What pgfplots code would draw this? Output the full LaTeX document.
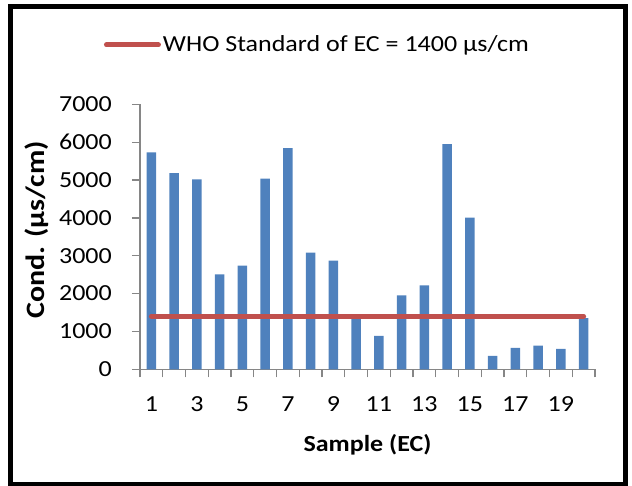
\documentclass[border=0pt]{standalone}
\usepackage{fontspec}
\setmainfont[FakeStretch=1.13]{Carlito}
\usepackage{pgfplots}
\pgfplotsset{compat=1.18}
\definecolor{barblue}{HTML}{4F81BD}
\definecolor{linered}{HTML}{C0504D}
\definecolor{axgray}{HTML}{868686}
\begin{document}
\fontsize{23pt}{27pt}\selectfont
\begin{tikzpicture}[x=1pt,y=1pt]
\path[use as bounding box] (0,0) rectangle (632,486);
\draw[line width=4.5pt] (10.3,2) rectangle (625.5,479.5);
\begin{axis}[
  at={(140pt,116.7pt)}, anchor=south west,
  scale only axis, width=455pt, height=265pt,
  xmin=0.5, xmax=20.5, ymin=0, ymax=7000,
  axis x line*=bottom, axis y line*=left,
  axis line style={draw=axgray, line width=1.3pt, -},
  every tick/.style={draw=axgray, line width=1.3pt},
  tick align=outside,
  xtick={1,3,...,19},
  major x tick style={draw=none},
  minor xtick={0.5,1.5,...,20.5},
  minor tick length=8pt,
  major tick length=8pt,
  ytick={0,1000,...,7000},
  /pgf/number format/assume math mode=true,
  /pgf/number format/1000 sep={},
  tick label style={font=\fontsize{23pt}{27pt}\selectfont},
  xticklabel style={anchor=center, yshift=-27pt},
  yticklabel style={anchor=east, inner sep=0pt, xshift=-20pt},
  xlabel={\bfseries Sample (EC)},
  ylabel={\bfseries Cond. (µs/cm)},
  label style={font=\fontsize{23pt}{27pt}\selectfont},
  xlabel style={at={(axis description cs:0.5,-0.286)}, anchor=center},
  ylabel style={at={(axis description cs:-0.226,0.526)}, anchor=center,
    font=\fontsize{26.5pt}{31pt}\selectfont},
  legend style={at={(axis description cs:0.39,1.224)}, anchor=center, draw=none, fill=none,
    font=\fontsize{23pt}{27pt}\selectfont, inner sep=0pt},
  legend cell align=left,
  legend image code/.code={\draw[linered, line width=5pt, line cap=round] (0pt,0pt) -- (52pt,0pt);},
  clip=false,
]
\addplot[ybar, bar width=9.3pt, fill=barblue, draw=none, forget plot] coordinates {
(1,5730) (2,5185) (3,5020) (4,2510) (5,2740) (6,5035) (7,5845) (8,3080) (9,2870) (10,1420)
(11,880) (12,1955) (13,2220) (14,5945) (15,4005) (16,355) (17,565) (18,625) (19,540) (20,1350)
};
\addplot[linered, line width=5pt, line cap=round] coordinates {(1,1400) (20,1400)};
\addlegendentry{WHO Standard of EC = 1400 µs/cm}
\end{axis}
\end{tikzpicture}
\end{document}
